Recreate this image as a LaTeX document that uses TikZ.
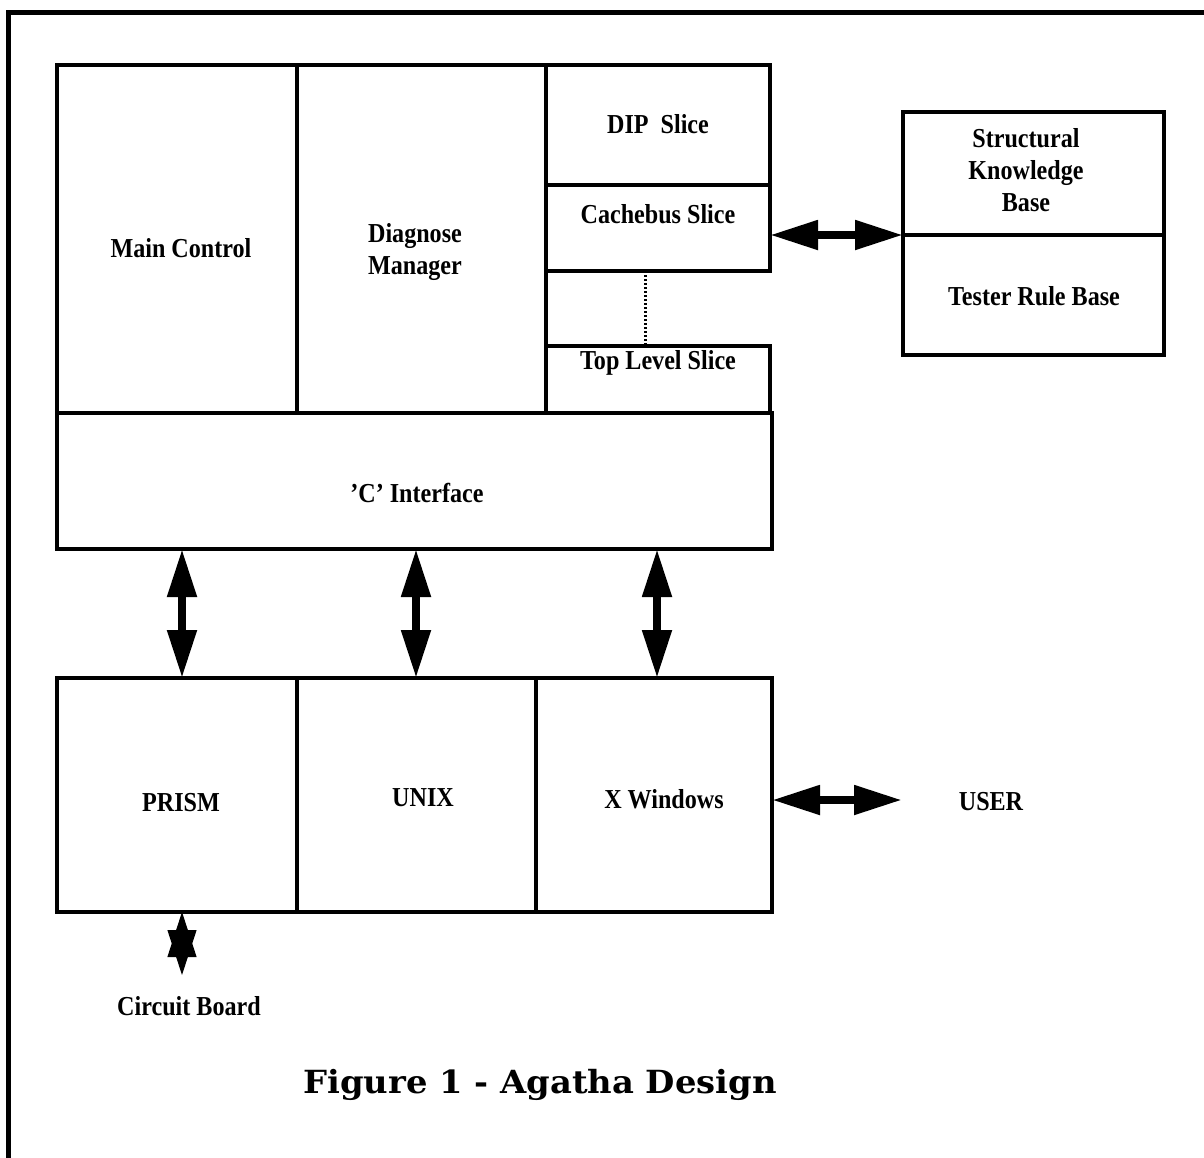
\documentclass[tikz,border=0pt]{standalone}
\usepackage{fontspec}
\setmainfont{Liberation Serif}[FakeStretch=0.88]
\newfontfamily\capfont{DejaVu Serif}[FakeStretch=1.06]
\usetikzlibrary{arrows.meta}
\newcommand\bx[6][]{\node[box,#1,minimum width={(#5-#3)*1bp},minimum height={(#6-#4)*1bp}] (#2) at (#3,#4) {};}
\begin{document}
\begin{tikzpicture}[x=1bp,y=-1bp,
 box/.style={draw, line width=3.5bp, anchor=north west, inner sep=0pt, outer sep=0pt},
 txt/.style={font=\fontsize{27.5}{32}\selectfont\bfseries, align=center, inner sep=0pt},
 fat/.style={line width=8bp, {Triangle[length=48bp,width=28bp]}-{Triangle[length=48bp,width=28bp]}},
 star/.style={line width=1bp, {Triangle[length=45bp,width=29bp]}-{Triangle[length=45bp,width=29bp]}},
 frame/.style={line width=5bp}
]
\useasboundingbox (0,0) rectangle (1204,1158);
% frame
\coordinate (fbl) at (8,1158);
\coordinate (ftl) at (8,12);
\coordinate (ftr) at (1204,12);
\draw[frame] (fbl) -- (ftl) -- (ftr);

% top block
\bx{main}{57}{65}{297}{413}
\bx{diag}{297}{65}{546}{413}
\bx{dip}{546}{65}{770}{185}
\bx{cache}{546}{185}{770}{271}
\bx{top}{546}{346}{770}{413}
\node[txt] (tmain) at (181,248) {Main Control};
\node[txt] (tdiag) at (415,252) {Diagnose\\Manager};
\node[txt] (tdip) at (658,124) {DIP\ \ Slice};
\node[txt] (tcache) at (658,214) {Cachebus Slice};
\node[txt] (ttop) at (658,363) {Top Level Slice};
\coordinate (dotx) at (645,0);
\draw[line width=3bp, dash pattern=on 2bp off 2bp] (dotx |- cache.south) -- (dotx |- top.north);

% interface
\bx{iface}{57}{413}{772}{549}
\node[txt] (tiface) at (417,493) {'C' Interface};

% bottom block
\bx{prism}{57}{678}{297}{912}
\bx{unix}{297}{678}{536}{912}
\bx{xwin}{536}{678}{772}{912}
\node[txt] (tprism) at (181,803) {PRISM};
\node[txt] (tunix) at (423,798) {UNIX};
\node[txt] (txwin) at (664,799) {X Windows};

% knowledge box
\bx{kb}{903}{112}{1164}{235}
\bx{tester}{903}{235}{1164}{355}
\node[txt] (tkb) at (1026,170) {Structural\\Knowledge\\Base};
\node[txt] (ttester) at (1034,296) {Tester Rule Base};

% vertical arrows
\coordinate (a1) at (182,0);
\coordinate (a2) at (416,0);
\coordinate (a3) at (657,0);
\draw[fat] (a1 |- iface.south) -- (a1 |- prism.north);
\draw[fat] (a2 |- iface.south) -- (a2 |- unix.north);
\draw[fat] (a3 |- iface.south) -- (a3 |- xwin.north);

% cache to knowledge arrow
\draw[fat] (cache.east |- tester.north west) -- (tester.north west);

% user
\node[txt] (user) at (991,802) {USER};
\coordinate (uend) at (902,800);
\draw[fat] (xwin.east |- uend) -- (uend);

% circuit board
\node[txt] (cb) at (189,1006) {Circuit Board};
\coordinate (cbtip) at (182,975);
\draw[star] (a1 |- prism.south) -- (cbtip);

% caption
\node[font=\capfont\bfseries\fontsize{32}{38}\selectfont, inner sep=0pt] (cap) at (540,1085) {Figure 1 - Agatha Design};
\end{tikzpicture}
\end{document}
